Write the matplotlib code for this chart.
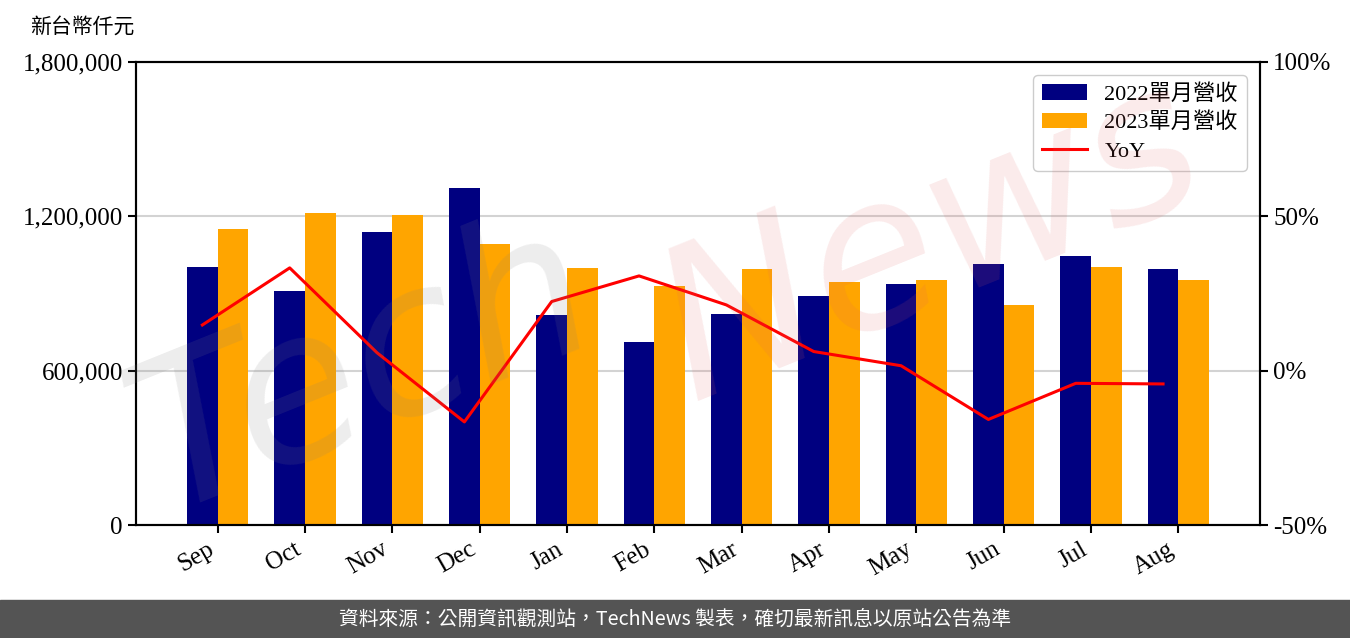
import numpy as np
import matplotlib
matplotlib.use('Agg')
import matplotlib.pyplot as plt
from matplotlib.ticker import FuncFormatter

plt.rcParams['font.family'] = ['Liberation Serif', 'Noto Sans CJK TC']

# 資料 (仟元)
months = ['Sep', 'Oct', 'Nov', 'Dec', 'Jan', 'Feb', 'Mar', 'Apr', 'May', 'Jun', 'Jul', 'Aug']
rev2022 = [1003000, 910000, 1139000, 1310000, 816000, 711000, 820000, 890000, 937000, 1015000, 1046000, 995000]
rev2023 = [1151000, 1213000, 1205000, 1092000, 999000, 929000, 995000, 945000, 952000, 855000, 1003000, 952000]
yoy = [14.8, 33.3, 5.8, -16.6, 22.4, 30.7, 21.3, 6.2, 1.6, -15.8, -4.1, -4.3]

x = np.arange(len(months))
w = 0.35

fig = plt.figure(figsize=(13.5, 6.38), dpi=100)
ax = fig.add_axes([136/1350, 1-525/638, (1260-136)/1350, (525-62)/638])

b1 = ax.bar(x - w/2, rev2022, w, color='#000080', label='2022單月營收')
b2 = ax.bar(x + w/2, rev2023, w, color='#FFA500', label='2023單月營收')
ax.set_ylim(0, 1800000)
ax.set_yticks([0, 600000, 1200000, 1800000])
ax.yaxis.set_major_formatter(FuncFormatter(lambda v, p: f'{int(v):,}'))
ax.grid(axis='y', color='lightgray', lw=1.5)
ax.set_axisbelow(True)
ax.set_xticks(x)
ax.set_xticklabels(months, rotation=30, ha='right')
ax.tick_params(labelsize=18, width=1.5, length=6)
for s in ax.spines.values():
    s.set_linewidth(1.5)

ax2 = ax.twinx()
l1, = ax2.plot(x - w/2, yoy, color='red', lw=2.2, label='YoY')
ax2.set_ylim(-50, 100)
ax2.set_yticks([-50, 0, 50, 100])
ax2.yaxis.set_major_formatter(FuncFormatter(lambda v, p: f'{int(v)}%'))
ax2.tick_params(labelsize=18, width=1.5, length=6)
for s in ax2.spines.values():
    s.set_linewidth(1.5)

ax2.legend(handles=[b1, b2, l1], loc='upper right', fontsize=16, framealpha=1,
           borderaxespad=0.6, labelspacing=0.35)

fig.text(30/1350, 1-27/638, '新台幣仟元', fontsize=15, va='center', ha='left',
         family=['Noto Sans CJK TC'])

# 浮水印
fig.text(0.27, 0.42, 'Tech', fontsize=150, rotation=22, color='gray', alpha=0.14,
         ha='center', va='center', style='italic', family=['DejaVu Sans'])
fig.text(0.69, 0.62, 'News', fontsize=150, rotation=22, color='#e06060', alpha=0.13,
         ha='center', va='center', style='italic', family=['DejaVu Sans'])

# 頁尾
fig.patches.append(plt.Rectangle((0, 0), 1, 38/638, transform=fig.transFigure,
                                 color='#545454', zorder=0))
fig.text(0.5, 19/638, '資料來源：公開資訊觀測站，TechNews 製表，確切最新訊息以原站公告為準',
         color='white', fontsize=14.2, ha='center', va='center',
         family=['Noto Sans CJK TC'])

fig.savefig('out.png', dpi=100)
